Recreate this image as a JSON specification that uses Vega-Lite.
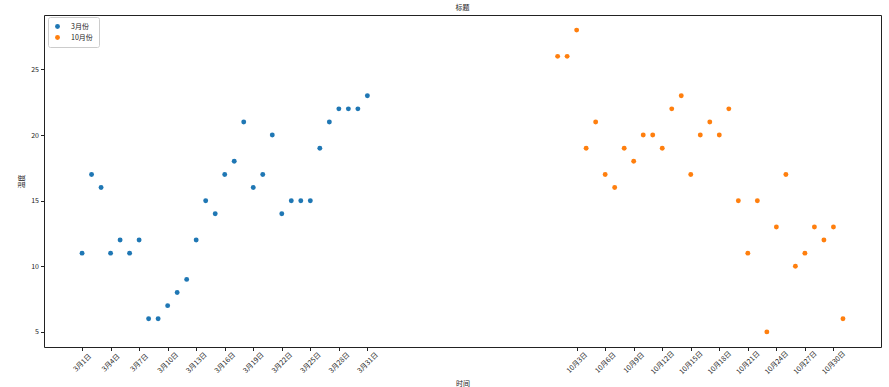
{
  "$schema": "https://vega.github.io/schema/vega-lite/v6.json",
  "width": 837,
  "height": 332,
  "autosize": {"type": "none"},
  "padding": {"left": 44, "top": 15, "right": 8, "bottom": 40},
  "background": "white",
  "title": {"text": "标题", "fontSize": 7, "font": "Noto Sans CJK SC", "fontWeight": "normal", "color": "#222", "offset": 4, "anchor": "middle"},
  "config": {"view": {"stroke": "#222", "strokeWidth": 1}, "font": "Noto Sans CJK SC"},
  "data": {"values": [
    {"x": 1, "temp": 11, "month": "3月份"}, {"x": 2, "temp": 17, "month": "3月份"}, {"x": 3, "temp": 16, "month": "3月份"},
    {"x": 4, "temp": 11, "month": "3月份"}, {"x": 5, "temp": 12, "month": "3月份"}, {"x": 6, "temp": 11, "month": "3月份"},
    {"x": 7, "temp": 12, "month": "3月份"}, {"x": 8, "temp": 6, "month": "3月份"}, {"x": 9, "temp": 6, "month": "3月份"},
    {"x": 10, "temp": 7, "month": "3月份"}, {"x": 11, "temp": 8, "month": "3月份"}, {"x": 12, "temp": 9, "month": "3月份"},
    {"x": 13, "temp": 12, "month": "3月份"}, {"x": 14, "temp": 15, "month": "3月份"}, {"x": 15, "temp": 14, "month": "3月份"},
    {"x": 16, "temp": 17, "month": "3月份"}, {"x": 17, "temp": 18, "month": "3月份"}, {"x": 18, "temp": 21, "month": "3月份"},
    {"x": 19, "temp": 16, "month": "3月份"}, {"x": 20, "temp": 17, "month": "3月份"}, {"x": 21, "temp": 20, "month": "3月份"},
    {"x": 22, "temp": 14, "month": "3月份"}, {"x": 23, "temp": 15, "month": "3月份"}, {"x": 24, "temp": 15, "month": "3月份"},
    {"x": 25, "temp": 15, "month": "3月份"}, {"x": 26, "temp": 19, "month": "3月份"}, {"x": 27, "temp": 21, "month": "3月份"},
    {"x": 28, "temp": 22, "month": "3月份"}, {"x": 29, "temp": 22, "month": "3月份"}, {"x": 30, "temp": 22, "month": "3月份"},
    {"x": 31, "temp": 23, "month": "3月份"},
    {"x": 51, "temp": 26, "month": "10月份"}, {"x": 52, "temp": 26, "month": "10月份"}, {"x": 53, "temp": 28, "month": "10月份"},
    {"x": 54, "temp": 19, "month": "10月份"}, {"x": 55, "temp": 21, "month": "10月份"}, {"x": 56, "temp": 17, "month": "10月份"},
    {"x": 57, "temp": 16, "month": "10月份"}, {"x": 58, "temp": 19, "month": "10月份"}, {"x": 59, "temp": 18, "month": "10月份"},
    {"x": 60, "temp": 20, "month": "10月份"}, {"x": 61, "temp": 20, "month": "10月份"}, {"x": 62, "temp": 19, "month": "10月份"},
    {"x": 63, "temp": 22, "month": "10月份"}, {"x": 64, "temp": 23, "month": "10月份"}, {"x": 65, "temp": 17, "month": "10月份"},
    {"x": 66, "temp": 20, "month": "10月份"}, {"x": 67, "temp": 21, "month": "10月份"}, {"x": 68, "temp": 20, "month": "10月份"},
    {"x": 69, "temp": 22, "month": "10月份"}, {"x": 70, "temp": 15, "month": "10月份"}, {"x": 71, "temp": 11, "month": "10月份"},
    {"x": 72, "temp": 15, "month": "10月份"}, {"x": 73, "temp": 5, "month": "10月份"}, {"x": 74, "temp": 13, "month": "10月份"},
    {"x": 75, "temp": 17, "month": "10月份"}, {"x": 76, "temp": 10, "month": "10月份"}, {"x": 77, "temp": 11, "month": "10月份"},
    {"x": 78, "temp": 13, "month": "10月份"}, {"x": 79, "temp": 12, "month": "10月份"}, {"x": 80, "temp": 13, "month": "10月份"},
    {"x": 81, "temp": 6, "month": "10月份"}
  ]},
  "mark": {"type": "point", "filled": true, "opacity": 1, "size": 24},
  "encoding": {
    "x": {
      "field": "x", "type": "quantitative",
      "scale": {"domain": [-3, 85], "nice": false, "zero": false},
      "axis": {
        "title": "时间",
        "values": [1, 4, 7, 10, 13, 16, 19, 22, 25, 28, 31, 53, 56, 59, 62, 65, 68, 71, 74, 77, 80],
        "labelExpr": "datum.value <= 31 ? '3月' + datum.value + '日' : '10月' + (datum.value - 50) + '日'",
        "labelAngle": -45, "labelAlign": "center", "labelBaseline": "middle",
        "labelPadding": 12, "tickSize": 3.5, "tickColor": "#222", "grid": false, "domain": false,
        "labelFontSize": 7, "labelColor": "#222", "labelFlush": false, "labelOverlap": false,
        "titleFontSize": 7, "titleFontWeight": "normal", "titleColor": "#222", "titlePadding": 4
      }
    },
    "y": {
      "field": "temp", "type": "quantitative",
      "scale": {"domain": [3.85, 29.15], "nice": false, "zero": false},
      "axis": {
        "title": "温度", "values": [5, 10, 15, 20, 25],
        "grid": false, "domain": false, "tickSize": 3.5, "tickColor": "#222", "labelPadding": 2,
        "labelFontSize": 7, "labelColor": "#222",
        "titleFontSize": 7, "titleFontWeight": "normal", "titleColor": "#222", "titlePadding": 6
      }
    },
    "color": {
      "field": "month", "type": "nominal",
      "scale": {"domain": ["3月份", "10月份"], "range": ["#1f77b4", "#ff7f0e"]},
      "legend": {
        "title": null, "orient": "none", "legendX": 4, "legendY": 2,
        "fillColor": "white", "strokeColor": "#cccccc", "padding": 6, "cornerRadius": 2,
        "labelFontSize": 7, "labelColor": "#222", "symbolSize": 24, "symbolType": "circle",
        "symbolStrokeWidth": 0, "rowPadding": 3, "labelOffset": 10
      }
    }
  }
}
